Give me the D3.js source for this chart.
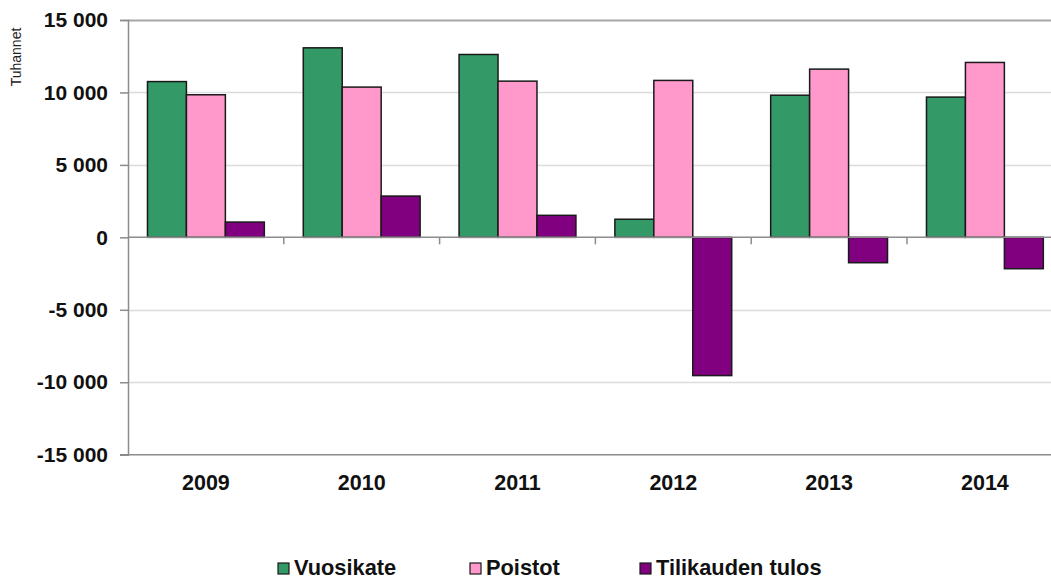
<!DOCTYPE html>
<html>
<head>
<meta charset="utf-8">
<script src="https://cdn.jsdelivr.net/npm/d3@7"></script>
<style>
  body { margin: 0; background: #fff; }
  svg { display: block; font-family: "Liberation Sans", Arial, sans-serif; }
</style>
</head>
<body>
<div id="chart"></div>
<script>
// data (thousands)
const years = ["2009", "2010", "2011", "2012", "2013", "2014"];
const vuosikate = [10750, 13080, 12620, 1250, 9810, 9680];
const poistot = [9840, 10370, 10780, 10830, 11610, 12070];
const tilikaudenTulos = [1055, 2850, 1520, -9540, -1750, -2165];
const seriesNames = ["Vuosikate", "Poistot", "Tilikauden tulos"];
const seriesColors = ["#339966", "#ff99cc", "#800080"];
const yTicks = [-15000, -10000, -5000, 0, 5000, 10000, 15000];

const width = 1051, height = 579;
const margin = {top: 20, left: 128, bottom: 124};

const svg = d3.select("#chart").append("svg")
    .attr("width", width)
    .attr("height", height);

// plot runs off the right edge, as in the reference
let x = d3.scaleBand()
    .domain(years)
    .range([margin.left, margin.left + 6 * 155.8]);

let series = d3.scaleBand()
    .domain(seriesNames)
    .range([0, x.bandwidth()])
    .paddingInner(0)
    .paddingOuter(0.5);

let y = d3.scaleLinear()
    .domain([-15000, 15000])
    .range([height - margin.bottom - 0.3, margin.top]);

// "15 000", "-5 000"
let fmt = d => d3.format(",")(d).replace(/,/g, " ").replace("−", "-");

// gridlines
svg.append("g")
    .selectAll("line")
    .data(yTicks.filter(d => d !== 0 && d !== -15000))
    .enter().append("line")
    .attr("x1", margin.left)
    .attr("x2", width)
    .attr("y1", d => Math.round(y(d)) + 0.5)
    .attr("y2", d => Math.round(y(d)) + 0.5)
    .attr("stroke", d => d === 15000 ? "#a6a6a6" : "#dcdcdc")
    .attr("stroke-width", d => d === 15000 ? 2 : 1.5);

// y axis
let yAxis = d3.axisLeft(y)
    .tickValues(yTicks)
    .tickSize(8)
    .tickFormat(fmt);

let yG = svg.append("g")
    .attr("transform", `translate(${margin.left},0)`)
    .call(yAxis);
yG.select(".domain").attr("stroke", "#8c8c8c").attr("stroke-width", 1.5);
yG.selectAll(".tick line").attr("stroke", "#8c8c8c").attr("stroke-width", 1.5);
yG.selectAll(".tick text")
    .attr("x", -20)
    .attr("font-size", "21px")
    .attr("font-weight", "bold")
    .attr("fill", "#111")
    .attr("font-family", "Liberation Sans, Arial, sans-serif");

// y axis title
svg.append("text")
    .attr("transform", `translate(21, 57) rotate(-90)`)
    .attr("text-anchor", "middle")
    .attr("font-size", "14px")
    .attr("fill", "#222")
    .text("Tuhannet");

// bars
const values = [vuosikate, poistot, tilikaudenTulos];
const groups = svg.append("g")
    .selectAll("g")
    .data(years)
    .enter().append("g")
    .attr("transform", d => `translate(${x(d)},0)`);

groups.selectAll("rect")
    .data((d, i) => seriesNames.map((s, j) => ({name: s, value: values[j][i]})))
    .enter().append("rect")
    .attr("x", d => series(d.name))
    .attr("width", series.bandwidth())
    .attr("y", d => y(Math.max(0, d.value)))
    .attr("height", d => Math.abs(y(d.value) - y(0)))
    .attr("fill", (d, j) => seriesColors[j])
    .attr("stroke", "#1a1a1a")
    .attr("stroke-width", 1.5);

// zero line with category ticks
svg.append("line")
    .attr("x1", margin.left).attr("x2", width)
    .attr("y1", y(0)).attr("y2", y(0))
    .attr("stroke", "#8c8c8c").attr("stroke-width", 1.5);

svg.append("g")
    .selectAll("line")
    .data(years.slice(1))
    .enter().append("line")
    .attr("x1", d => x(d)).attr("x2", d => x(d))
    .attr("y1", y(0)).attr("y2", y(0) + 7)
    .attr("stroke", "#8c8c8c").attr("stroke-width", 1.5);

// bottom axis line
svg.append("line")
    .attr("x1", margin.left - 8).attr("x2", width)
    .attr("y1", y(-15000)).attr("y2", y(-15000))
    .attr("stroke", "#8c8c8c").attr("stroke-width", 1.5);

// category labels
svg.append("g")
    .selectAll("text")
    .data(years)
    .enter().append("text")
    .attr("x", d => x(d) + x.bandwidth() / 2)
    .attr("y", y(-15000) + 35)
    .attr("text-anchor", "middle")
    .attr("font-size", "21.5px")
    .attr("font-weight", "bold")
    .attr("fill", "#111")
    .text(d => d);

// legend
const legendX = [278, 470, 640];
const legend = svg.append("g")
    .selectAll("g")
    .data(seriesNames)
    .enter().append("g")
    .attr("transform", (d, i) => `translate(${legendX[i]}, 563)`);

legend.append("rect")
    .attr("width", 11).attr("height", 11)
    .attr("fill", (d, i) => seriesColors[i])
    .attr("stroke", "#1a1a1a").attr("stroke-width", 1.2);

legend.append("text")
    .attr("x", 16)
    .attr("y", 12)
    .attr("font-size", "21.8px")
    .attr("font-weight", "bold")
    .attr("fill", "#111")
    .text(d => d);
</script>
</body>
</html>
